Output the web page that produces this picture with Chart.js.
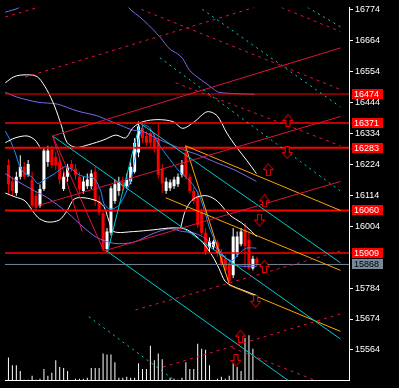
<!DOCTYPE html>
<html>
<head>
<meta charset="utf-8">
<script src="https://cdn.jsdelivr.net/npm/chart.js@4.4.1/dist/chart.umd.min.js"></script>
<style>
  html, body { margin: 0; padding: 0; background: #000; }
  canvas { display: block; }
</style>
</head>
<body>
<canvas id="chart" width="399" height="388"></canvas>
<script>
// candles, bar index 0..63
const opens  = [16222,16163,16122,16180,16215,16187,16170,16112,16077,16136,
                16232,16277,16249,16232,16136,16180,16225,16208,16180,16129,
                16146,16146,16198,16094,16050,15923,15981,16094,16129,16163,
                16146,16163,16198,16266,16352,16325,16335,16318,16311,16208,
                16129,16139,16146,16153,16187,16266,16180,16129,16112,16053,
                15981,15929,15929,15947,15912,15888,15871,15830,15905,15940,
                15991,15957,15854,15888];
const highs  = [16242,16180,16198,16256,16232,16239,16198,16129,16153,16284,
                16290,16290,16266,16242,16198,16225,16239,16225,16198,16180,
                16191,16205,16215,16112,16060,15998,16146,16170,16180,16180,
                16191,16232,16318,16376,16370,16342,16352,16335,16370,16225,
                16177,16170,16180,16191,16239,16284,16191,16143,16129,16067,
                15998,15964,15957,15957,15923,15902,15888,15998,15985,15998,
                16015,15985,15899,15895];
const lows   = [16119,16112,16112,16170,16170,16180,16070,16060,16070,16129,
                16215,16211,16205,16153,16129,16163,16198,16170,16122,16119,
                16136,16136,16077,16043,15916,15912,15971,16084,16112,16129,
                16136,16153,16191,16249,16301,16290,16284,16266,16174,16122,
                16119,16129,16136,16143,16177,16170,16119,16084,15998,15971,
                15902,15916,15923,15895,15861,15837,15802,15820,15895,15933,
                15854,15847,15847,15861];
const closes = [16153,16129,16180,16215,16180,16225,16077,16070,16136,16273,
                16273,16222,16222,16170,16180,16215,16208,16187,16136,16163,
                16170,16191,16094,16053,15923,15985,16139,16153,16163,16146,
                16170,16215,16301,16359,16318,16301,16301,16284,16187,16156,
                16163,16160,16170,16180,16222,16180,16129,16094,16009,15981,
                15912,15950,15950,15905,15871,15847,15809,15967,15967,15985,
                15933,15854,15888,15871];
const volumes = [240,160,160,100,10,10,50,10,20,120,50,80,210,140,130,100,0,20,20,20,
                 30,130,130,130,280,270,270,190,30,30,40,30,30,180,120,120,360,210,280,220,
                 10,30,20,10,30,190,120,120,380,330,320,160,0,20,40,20,50,180,140,100,
                 440,470,330,10];

// price axis
const tickValues = [16774,16664,16554,16444,16334,16224,16114,16004,15784,15674,15564];
const levelPrices = [16474,16371,16283,16060,15909];
const bidPrice = 15868;

// indicator curves [bar, price]
const bbUpper = [[-0.8,16514],[1.2,16534],[2.9,16541],[6.2,16541],[7.7,16531],[9.7,16490],[11.7,16431],
  [13.4,16363],[14.9,16301],[17.2,16284],[20.4,16294],[24.2,16311],[27.2,16328],[29.7,16318],[31.7,16356],
  [34.2,16376],[37.9,16383],[41.7,16376],[44.2,16352],[47.2,16376],[50.4,16411],[52.9,16397],[55.4,16335],
  [57.9,16284],[60.4,16239],[62.9,16191]];
const bbLower = [[-0.8,16122],[1.7,16108],[4.2,16094],[7.4,16036],[9.9,16019],[12.9,16026],[14.9,16060],
  [16.7,16101],[19.2,16105],[22.4,16094],[24.2,16074],[25.4,16026],[26.7,15985],[31.7,15985],[36.7,15991],
  [41.7,15998],[45.4,15991],[49.2,15947],[51.7,15899],[53.4,15854],[54.9,15809],[56.7,15792],[59.2,15778],
  [62.9,15758]];
const bbInnerLeft = [[-0.8,16301],[1.7,16318],[4.7,16325],[6.7,16311],[8.2,16280]];
const bbInnerRight = [[43.7,15998],[44.7,16053],[46.2,16091],[47.9,16108],[50.4,16112],[52.9,16094],
  [56.2,16043],[59.2,16015],[61.7,15985],[62.9,15967]];
const maFast = [[-0.8,16342],[0.4,16311],[1.7,16266],[2.9,16215],[4.2,16191],[5.9,16180],[7.4,16156],
  [9.2,16170],[11.7,16191],[14.2,16215],[15.9,16208],[17.4,16191],[19.2,16180],[21.7,16174],[23.4,16129],
  [24.2,16084],[25.4,16067],[26.7,16067],[27.9,16077],[29.2,16105],[30.9,16163],[32.4,16266],[34.2,16363],
  [35.9,16352],[37.9,16301],[40.9,16242],[43.4,16198],[44.9,16180],[46.7,16153],[48.4,16112],[49.7,16060],
  [50.9,16002],[52.2,15957],[53.4,15923],[54.7,15895],[56.7,15881],[58.4,15905],[60.4,15926],[62.9,15926]];
const maSlowTop = [[-0.8,16765],[0.9,16772],[2.4,16779],[5.4,16810],[29.2,16810],[30.4,16782],[34.2,16737],
  [36.7,16703],[38.7,16672],[40.9,16634],[42.9,16617],[44.2,16600],[45.9,16559],[47.9,16534],[49.9,16514],
  [52.2,16490],[53.4,16480],[56.7,16476],[62.4,16473]];
const maSlowMid = [[-0.8,16480],[0.4,16473],[2.4,16462],[7.4,16445],[12.4,16438],[17.4,16414],[22.4,16397],
  [24.2,16387],[28.4,16363],[31.7,16345],[33.4,16345],[38.4,16311],[44.2,16277],[48.4,16256],[52.4,16232],
  [56.7,16208],[59.2,16191],[62.9,16163]];
const maSlowLow = [[-0.8,16191],[2.4,16163],[6.7,16129],[9.9,16105],[14.9,16053],[19.2,15998],[22.4,15964],
  [26.7,15943],[31.7,15947],[36.7,15978],[40.9,15995],[44.2,15985],[46.7,15981],[49.2,15967],[51.7,15940],
  [54.2,15905],[55.9,15881],[57.9,15864],[62.9,15861]];

// trend lines [bar, price] pairs
const crimsonLines = [
  [[11.2,16325],[84.2,16638]], [[7.4,16077],[84.2,16394]], [[24.2,15916],[84.2,16163]],
  [[11.2,16325],[24.2,15916]], [[11.2,16325],[18.7,15985]]
];
const crimsonDashed = [
  [[-0.8,16748],[9.2,16789]], [[4.2,16534],[62.4,16782]], [[32.2,15706],[84.2,15916]],
  [[39.2,15503],[84.2,15692]], [[69.2,16782],[84.2,16696]], [[33.7,16775],[84.2,16490]],
  [[42.4,16514],[84.2,16290]], [[56.7,15572],[79.2,15448]]
];
const cyanDashed = [
  [[75.9,16782],[84.2,16713]], [[49.2,16775],[84.2,16428]], [[38.4,16603],[84.2,16129]],
  [[20.4,15682],[42.9,15448]]
];
const cyanLines = [
  [[11.2,16325],[84.2,15603]], [[33.4,16370],[84.2,15874]], [[24.9,15916],[71.7,15448]],
  [[25.2,15916],[33.2,16363]]
];
const orangeLines = [
  [[44.9,16290],[84.2,16060]], [[39.9,16105],[84.2,15847]], [[55.9,15795],[84.2,15630]],
  [[44.9,16290],[55.9,15802]]
];

// signal arrows [bar, price]
const upArrows = [[70.9,16380],[65.9,16205],[64.9,16094],[64.9,15861],[58.9,15613]];
const downArrows = [[70.7,16266],[63.7,16026],[62.7,15737],[57.7,15527]];

const levelWidths = [1, 1.5, 2, 2, 1.5];

function arrowCanvas(up) {
  const c = document.createElement('canvas');
  c.width = 11; c.height = 13;
  const g = c.getContext('2d');
  if (!up) { g.translate(0, 13); g.scale(1, -1); }
  g.beginPath();
  g.moveTo(5.5, 0.5); g.lineTo(10.5, 6.5); g.lineTo(7.5, 6.5); g.lineTo(7.5, 12.5);
  g.lineTo(3.5, 12.5); g.lineTo(3.5, 6.5); g.lineTo(0.5, 6.5); g.closePath();
  g.fillStyle = '#000'; g.fill();
  g.strokeStyle = '#ff0000'; g.lineWidth = 1; g.stroke();
  return c;
}

const pts = arr => arr.map(p => ({ x: p[0], y: p[1] }));
function line(points, color, extra) {
  return Object.assign({
    type: 'line', data: pts(points), borderColor: color, borderWidth: 1,
    pointRadius: 0, tension: 0, order: 1
  }, extra || {});
}

const candleColor = opens.map((o, i) => closes[i] < o ? '#ff0000' : '#ffffff');

const datasets = [];
datasets.push({
  type: 'bar', data: opens.map((o, i) => ({ x: i, y: [o, closes[i]] })),
  backgroundColor: candleColor, barThickness: 3, grouped: false, inflateAmount: 0, order: 5
});
datasets.push({
  type: 'bar', data: lows.map((l, i) => ({ x: i, y: [l, highs[i]] })),
  backgroundColor: candleColor, barThickness: 1, grouped: false, inflateAmount: 0, order: 6
});
datasets.push({
  type: 'bar', yAxisID: 'vol', data: volumes.map((v, i) => ({ x: i, y: v })),
  backgroundColor: '#ffffff', barThickness: 1, grouped: false, inflateAmount: 0, order: 7
});

[bbUpper, bbLower, bbInnerLeft, bbInnerRight].forEach(c => datasets.push(line(c, '#ffffff', { tension: 0.3, order: 3 })));
datasets.push(line(maFast, '#1e90ff', { tension: 0.3, order: 3 }));
[maSlowTop, maSlowMid, maSlowLow].forEach(c => datasets.push(line(c, '#7b68ee', { tension: 0.3, order: 3 })));

levelPrices.forEach((p, i) => datasets.push(line([[-1, p], [90, p]], '#ff0000', { borderWidth: levelWidths[i], order: 2 })));
datasets.push(line([[-1, bidPrice], [90, bidPrice]], '#778899', { order: 2 }));

crimsonLines.forEach(l => datasets.push(line(l, '#dc143c')));
crimsonDashed.forEach(l => datasets.push(line(l, '#dc143c', { borderDash: [3, 4] })));
cyanDashed.forEach(l => datasets.push(line(l, '#00ced1', { borderDash: [2, 4] })));
cyanLines.forEach(l => datasets.push(line(l, '#00ced1')));
orangeLines.forEach(l => datasets.push(line(l, '#ffa500')));

datasets.push({ type: 'line', data: pts(upArrows), showLine: false, pointStyle: arrowCanvas(true), order: 0 });
datasets.push({ type: 'line', data: pts(downArrows), showLine: false, pointStyle: arrowCanvas(false), order: 0 });

const axisFont = { family: 'Liberation Sans', size: 9 };

const labelsPlugin = {
  id: 'labels',
  beforeDraw(chart) {
    const ctx = chart.ctx;
    ctx.save();
    ctx.fillStyle = '#000';
    ctx.fillRect(0, 0, chart.width, chart.height);
    ctx.restore();
  },
  afterDraw(chart) {
    const ctx = chart.ctx;
    const y = chart.scales.y;
    const left = chart.chartArea.right + 3;
    const box = (p, bg, fg) => {
      const py = Math.round(y.getPixelForValue(p));
      ctx.fillStyle = bg;
      ctx.fillRect(left, py - 5, 31, 10);
      ctx.fillStyle = fg;
      ctx.font = '9px "Liberation Sans"';
      ctx.textBaseline = 'middle';
      ctx.fillText(String(p), left + 2, py + 0.5);
    };
    ctx.save();
    levelPrices.forEach(p => box(p, '#ff0000', '#ffffff'));
    box(bidPrice, '#778899', '#000000');
    ctx.restore();
  }
};

new Chart(document.getElementById('chart'), {
  type: 'bar',
  data: { datasets },
  plugins: [labelsPlugin],
  options: {
    responsive: false,
    animation: false,
    devicePixelRatio: 1,
    layout: { padding: 0 },
    plugins: { legend: { display: false }, tooltip: { enabled: false } },
    scales: {
      x: {
        type: 'linear', min: -0.875, max: 86.375, offset: false,
        ticks: { display: false },
        grid: { display: false, drawTicks: false },
        border: { display: true, color: '#ffffff', width: 1 },
        afterFit: s => { s.height = 2; }
      },
      y: {
        type: 'linear', position: 'right', min: 15455, max: 16782,
        afterBuildTicks: s => { s.ticks = tickValues.map(v => ({ value: v })); },
        afterFit: s => { s.width = 50; },
        ticks: { color: '#ffffff', font: axisFont, padding: 2, autoSkip: false, callback: v => String(v) },
        grid: { display: true, drawOnChartArea: false, drawTicks: true, tickLength: 4, color: '#ffffff' },
        border: { display: true, color: '#ffffff', width: 1 }
      },
      vol: {
        type: 'linear', display: false, min: 0, max: 3860
      }
    }
  }
});
</script>
</body>
</html>
